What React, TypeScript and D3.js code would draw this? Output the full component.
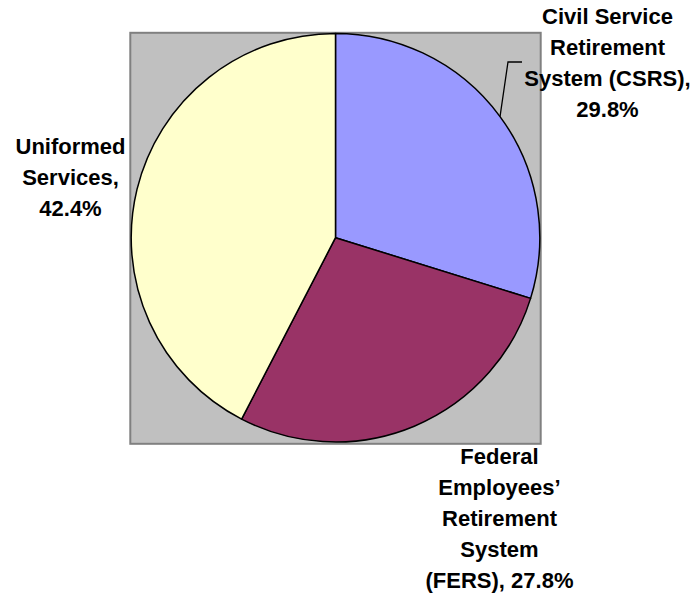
import React from "react";
import * as d3 from "d3";

const categories = ["CSRS", "FERS", "Uniformed Services"];
const shares = [29.8, 27.8, 42.4];
const sliceColors = ["#9999FF", "#993366", "#FFFFCC"];
const labelNameLines = [
  ["Civil Service", "Retirement", "System (CSRS),"],
  ["Federal", "Employees’", "Retirement", "System", "(FERS),"],
  ["Uniformed", "Services,"],
];
// whether the percentage goes on its own line
const pctOwnLine = [true, false, true];

export default function App() {
  const W = 696;
  const H = 596;
  const plot = { x: 130.3, y: 32.8, w: 410.4, h: 411 };
  const cx = 335.5;
  const cy = 237.7;
  const r = 204.3;

  const pie = d3.pie<number>().sort(null).value((d) => d)(shares);
  const arc = d3.arc<d3.PieArcDatum<number>>().innerRadius(0).outerRadius(r);

  const labelAnchors = [
    { x: 607.5, y: 23.5 },
    { x: 499.5, y: 463.5 },
    { x: 70.5, y: 153.5 },
  ];
  const lineH = 31;

  const labels = categories.map((c, i) => {
    const pct = `${shares[i].toFixed(1)}%`;
    const names = labelNameLines[i].slice();
    let lines: string[];
    if (pctOwnLine[i]) lines = [...names, pct];
    else {
      lines = names.slice(0, -1).concat([names[names.length - 1] + " " + pct]);
    }
    return lines;
  });

  // leader line for the first slice
  const s0 = pie[0];
  const mid = (s0.startAngle + s0.endAngle) / 2;
  const p0 = [cx + r * Math.sin(mid), cy - r * Math.cos(mid)];
  const elbow = [508, 62];
  const lend = [522, 62];

  return (
    <svg
      width={W}
      height={H}
      style={{ position: "absolute", left: 0, top: 0 }}
      fontFamily="'Liberation Sans', Arial, sans-serif"
    >
      <rect x={0} y={0} width={W} height={H} fill="#ffffff" />
      <rect
        x={plot.x}
        y={plot.y}
        width={plot.w}
        height={plot.h}
        fill="#C0C0C0"
        stroke="#808080"
        strokeWidth={2}
      />
      <g transform={`translate(${cx},${cy})`}>
        {pie.map((d, i) => (
          <path
            key={categories[i]}
            d={arc(d) || ""}
            fill={sliceColors[i]}
            stroke="#000000"
            strokeWidth={1.5}
            strokeLinejoin="round"
          />
        ))}
      </g>
      <polyline
        points={`${p0[0]},${p0[1]} ${elbow[0]},${elbow[1]} ${lend[0]},${lend[1]}`}
        fill="none"
        stroke="#000000"
        strokeWidth={1.3}
      />
      {labels.map((lines, i) => (
        <text
          key={categories[i]}
          x={labelAnchors[i].x}
          y={labelAnchors[i].y}
          textAnchor="middle"
          fontSize={22}
          fontWeight="bold"
          fill="#000000"
        >
          {lines.map((ln, j) => (
            <tspan key={j} x={labelAnchors[i].x} dy={j === 0 ? 0 : lineH}>
              {ln}
            </tspan>
          ))}
        </text>
      ))}
    </svg>
  );
}
